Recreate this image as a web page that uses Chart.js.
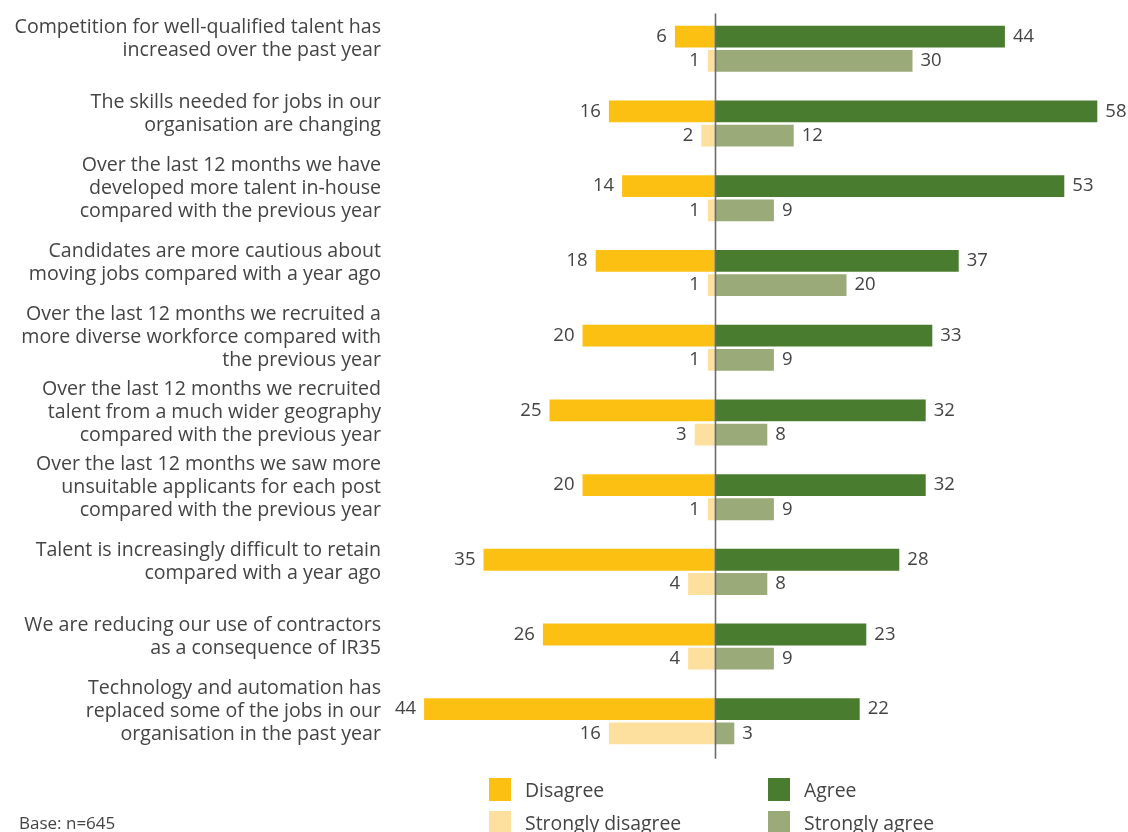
<!DOCTYPE html>
<html>
<head>
<meta charset="utf-8">
<script src="https://cdn.jsdelivr.net/npm/chart.js@4.4.1/dist/chart.umd.min.js"></script>
<style>
  html, body { margin: 0; padding: 0; background: #fff; }
  #wrap { position: relative; width: 1128px; height: 832px; }
  #legend { position: absolute; left: 0; top: 0; }
  .item { position: absolute; display: flex; align-items: center; white-space: nowrap; font: 19.4px "Open Sans", sans-serif; color: #444; }
  .box { width: 22px; height: 23px; margin-right: 14px; }
  #base { position: absolute; left: 19px; top: 811px; font: 17px "Open Sans", sans-serif; color: #444; }
</style>
</head>
<body>
<div id="wrap">
  <canvas id="chart" width="1128" height="832"></canvas>
  <div id="legend"></div>
  <div id="base">Base: n=645</div>
</div>
<script>
// --- Data (percentages) ---
const categories = [
    ["Competition for well-qualified talent has", "increased over the past year"],
    ["The skills needed for jobs in our", "organisation are changing"],
    ["Over the last 12 months we have", "developed more talent in-house", "compared with the previous year"],
    ["Candidates are more cautious about", "moving jobs compared with a year ago"],
    ["Over the last 12 months we recruited a", "more diverse workforce compared with", "the previous year"],
    ["Over the last 12 months we recruited", "talent from a much wider geography", "compared with the previous year"],
    ["Over the last 12 months we saw more", "unsuitable applicants for each post", "compared with the previous year"],
    ["Talent is increasingly difficult to retain", "compared with a year ago"],
    ["We are reducing our use of contractors", "as a consequence of IR35"],
    ["Technology and automation has", "replaced some of the jobs in our", "organisation in the past year"]
];
const disagree         = [6, 16, 14, 18, 20, 25, 20, 35, 26, 44];
const stronglyDisagree = [1, 2, 1, 1, 1, 3, 1, 4, 4, 16];
const agree            = [44, 58, 53, 37, 33, 32, 32, 28, 23, 22];
const stronglyAgree    = [30, 12, 9, 20, 9, 8, 9, 8, 9, 3];

const textColor = "#444444";
const FONT = "'Open Sans', sans-serif";

// values drawn outside the bar ends
const valueLabels = {
    id: "valueLabels",
    afterDatasetsDraw(chart) {
        const ctx = chart.ctx;
        ctx.save();
        ctx.font = "18.5px " + FONT;
        ctx.fillStyle = textColor;
        ctx.textBaseline = "middle";
        chart.data.datasets.forEach((ds, i) => {
            chart.getDatasetMeta(i).data.forEach((bar, j) => {
                const v = ds.data[j];
                ctx.textAlign = v < 0 ? "right" : "left";
                ctx.fillText(Math.abs(v), bar.x + (v < 0 ? -8 : 8), bar.y);
            });
        });
        ctx.restore();
    }
};

// vertical zero line
const zeroLine = {
    id: "zeroLine",
    afterDatasetsDraw(chart) {
        const { ctx, chartArea, scales } = chart;
        const x = Math.round(scales.x.getPixelForValue(0)) + 0.5;
        ctx.save();
        ctx.strokeStyle = "#6b6b6b";
        ctx.lineWidth = 1.6;
        ctx.beginPath();
        ctx.moveTo(x, chartArea.top + 2);
        ctx.lineTo(x, chartArea.bottom);
        ctx.stroke();
        ctx.restore();
    }
};

const datasets = [
    { label: "Disagree", data: disagree.map(v => -v), backgroundColor: "#fcc012", stack: "a" },
    { label: "Agree", data: agree, backgroundColor: "#4a7c2f", stack: "a" },
    { label: "Strongly disagree", data: stronglyDisagree.map(v => -v), backgroundColor: "#fee09e", stack: "b" },
    { label: "Strongly agree", data: stronglyAgree, backgroundColor: "#9aaa78", stack: "b" }
];

new Chart(document.getElementById("chart"), {
    type: "bar",
    data: { labels: categories, datasets: datasets },
    options: {
        indexAxis: "y",
        responsive: false,
        animation: false,
        categoryPercentage: 0.648,
        barPercentage: 0.9,
        layout: { padding: { left: 0, right: 17.5, top: 11.4, bottom: 73.3 } },
        plugins: { legend: { display: false }, tooltip: { enabled: false } },
        scales: {
            x: { display: false, min: -50, max: 60, stacked: true },
            y: {
                grid: { display: false, drawTicks: false, tickLength: 0 },
                border: { display: false },
                ticks: { color: textColor, font: { family: FONT, size: 19.6, lineHeight: 1.18 }, padding: 3.5, labelOffset: -10 },
                afterFit: (scale) => {
                    scale.width = 384.5;
                    scale.paddingTop = 0;
                    scale.paddingBottom = 0;
                }
            }
        }
    },
    plugins: [valueLabels, zeroLine]
});

// legend, two columns
const legend = document.getElementById("legend");
const legendPos = [[489, 776], [768, 776], [489, 809], [768, 809]];
datasets.forEach((ds, i) => {
    const el = document.createElement("div");
    el.className = "item";
    el.style.left = legendPos[i][0] + "px";
    el.style.top = legendPos[i][1] + "px";
    el.innerHTML = `<span class="box" style="background:${ds.backgroundColor}"></span>${ds.label}`;
    legend.appendChild(el);
});
</script>
</body>
</html>
